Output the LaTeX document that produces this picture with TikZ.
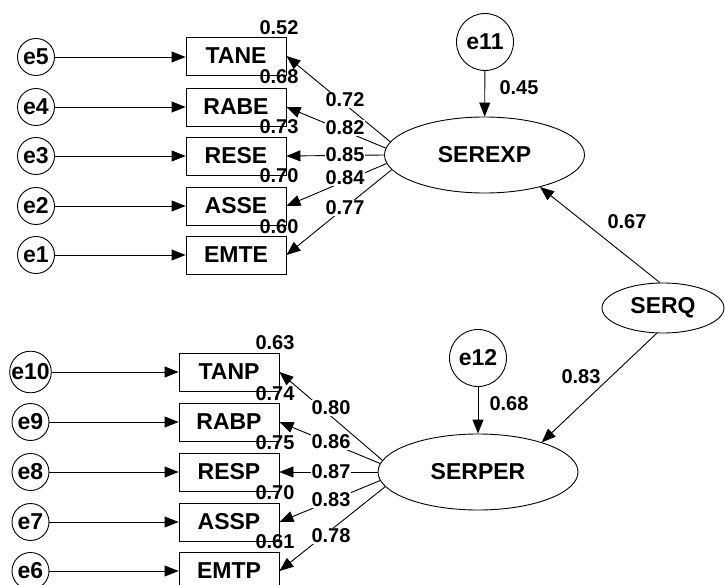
\documentclass[tikz,border=0pt]{standalone}
\usepackage{fontspec}
\setmainfont{Liberation Sans}
\usetikzlibrary{shapes.geometric,arrows.meta}
\begin{document}
\begin{tikzpicture}[x=1pt,y=-1pt,
  every node/.style={font=\fontsize{23}{23}\selectfont\bfseries},
  obs/.style={draw,rectangle,minimum width=100pt,minimum height=38pt,inner sep=0pt,line width=0.9pt},
  err/.style={draw,circle,minimum size=37pt,inner sep=0pt,line width=0.9pt},
  bigerr/.style={draw,circle,minimum size=57pt,inner sep=0pt,line width=0.9pt},
  lat/.style={draw,ellipse,minimum width=200pt,minimum height=76pt,inner sep=0pt,line width=0.9pt},
  arr/.style={-{Triangle[length=14pt,width=11pt]},line width=0.9pt},
  lab/.style={font=\fontsize{20}{20}\selectfont\bfseries,inner sep=0.5pt},
  wlab/.style={lab,fill=white}]
\useasboundingbox (0,0) rectangle (725,585);
\fill[white] (0,0) rectangle (725,585);
\clip (0,0) rectangle (725,585);
% top indicators
\node[obs] (TANE) at (236,56) {TANE};
\node[obs] (RABE) at (236,107) {RABE};
\node[obs] (RESE) at (236,156) {RESE};
\node[obs] (ASSE) at (236,206) {ASSE};
\node[obs] (EMTE) at (236,255) {EMTE};
\node[err] (e5) at (36,57) {e5};
\node[err] (e4) at (36,107) {e4};
\node[err] (e3) at (36,156) {e3};
\node[err] (e2) at (36,206) {e2};
\node[err] (e1) at (36,255) {e1};
% bottom indicators
\node[obs] (TANP) at (229,372) {TANP};
\node[obs] (RABP) at (229,422) {RABP};
\node[obs] (RESP) at (229,472) {RESP};
\node[obs] (ASSP) at (229,522) {ASSP};
\node[obs] (EMTP) at (229,571) {EMTP};
\node[err] (e10) at (30.5,372) {e10};
\node[err] (e9) at (30.5,422) {e9};
\node[err] (e8) at (30.5,472) {e8};
\node[err] (e7) at (30.5,522) {e7};
\node[err] (e6) at (30.5,571) {e6};
% latents
\node[lat] (SEREXP) at (484.5,155) {SEREXP};
\node[lat] (SERPER) at (478,472) {SERPER};
\node[draw,ellipse,minimum width=122pt,minimum height=50pt,inner sep=0pt,line width=0.9pt] (SERQ) at (663,308) {SERQ};
\node[bigerr] (e11) at (485,42) {e11};
\node[bigerr] (e12) at (478,358) {e12};
% error arrows
\foreach \e/\b in {e5/TANE,e4/RABE,e3/RESE,e2/ASSE,e1/EMTE,e10/TANP,e9/RABP,e8/RESP,e7/ASSP,e6/EMTP}
  \draw[arr] (\e) -- (\b.west |- \e);
% loadings
\draw[arr] (SEREXP.172) -- (TANE.east);
\draw[arr] (SEREXP.176) -- (RABE.east);
\draw[arr] (SEREXP.180) -- (RESE.east);
\draw[arr] (SEREXP.185) -- (ASSE.east);
\draw[arr] (SEREXP.189) -- (EMTE.east);
\draw[arr] (SERPER.173) -- (TANP.east);
\draw[arr] (SERPER.175) -- (RABP.east);
\draw[arr] (SERPER.180) -- (RESP.east);
\draw[arr] (SERPER.185) -- (ASSP.east);
\draw[arr] (SERPER.189) -- (EMTP.east);
% structural
\draw[arr] (e11) -- (SEREXP);
\draw[arr] (e12) -- (SERPER);
\draw[arr] (SERQ.97) -- (SEREXP.330);
\draw[arr] (SERQ.256) -- (SERPER.25);
% loading labels
\node[wlab] (l1) at (345,100) {0.72};
\node[wlab] (l2) at (345,128) {0.82};
\node[wlab] (l3) at (345,155) {0.85};
\node[wlab] (l4) at (345,178) {0.84};
\node[wlab] (l5) at (345,208) {0.77};
\node[wlab] (l6) at (331,408) {0.80};
\node[wlab] (l7) at (331,442) {0.86};
\node[wlab] (l8) at (331,472) {0.87};
\node[wlab] (l9) at (331,500) {0.83};
\node[wlab] (l10) at (331,536) {0.78};
% squared multiple correlations
\node[lab] (r1) at (279,28) {0.52};
\node[lab] (r2) at (279,77) {0.68};
\node[lab] (r3) at (279,127) {0.73};
\node[lab] (r4) at (279,176) {0.70};
\node[lab] (r5) at (279,227) {0.60};
\node[lab] (r6) at (275,343) {0.63};
\node[lab] (r7) at (275,394) {0.74};
\node[lab] (r8) at (275,443) {0.75};
\node[lab] (r9) at (275,493) {0.70};
\node[lab] (r10) at (275,542) {0.61};
% structural labels
\node[lab] (s1) at (519,88) {0.45};
\node[lab] (s2) at (627,222) {0.67};
\node[lab] (s3) at (581,377) {0.83};
\node[lab] (s4) at (509,404) {0.68};
\end{tikzpicture}
\end{document}
